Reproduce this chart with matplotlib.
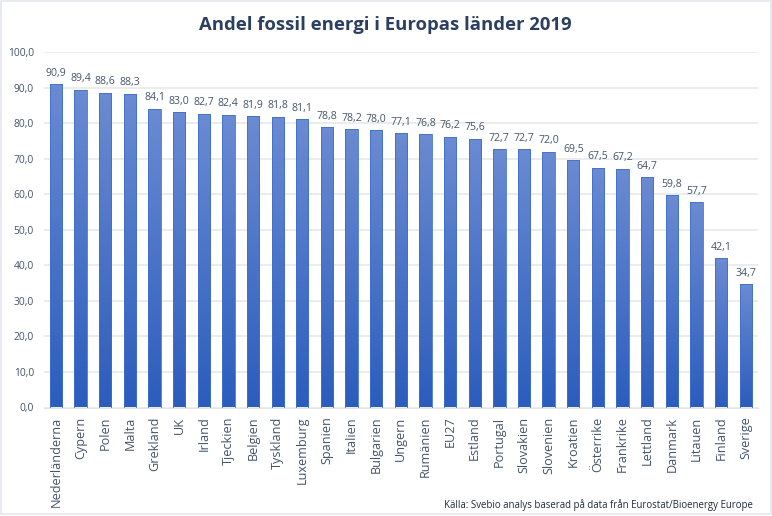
import numpy as np
import matplotlib
matplotlib.use("Agg")
import matplotlib.pyplot as plt
from matplotlib.colors import LinearSegmentedColormap
from matplotlib.patches import Rectangle

countries = ["Nederländerna", "Cypern", "Polen", "Malta", "Grekland", "UK", "Irland",
             "Tjeckien", "Belgien", "Tyskland", "Luxemburg", "Spanien", "Italien",
             "Bulgarien", "Ungern", "Rumänien", "EU27", "Estland", "Portugal",
             "Slovakien", "Slovenien", "Kroatien", "Österrike", "Frankrike", "Lettland",
             "Danmark", "Litauen", "Finland", "Sverige"]
values = [90.9, 89.4, 88.6, 88.3, 84.1, 83.0, 82.7, 82.4, 81.9, 81.8, 81.1, 78.8,
          78.2, 78.0, 77.1, 76.8, 76.2, 75.6, 72.7, 72.7, 72.0, 69.5, 67.5, 67.2,
          64.7, 59.8, 57.7, 42.1, 34.7]
yticks = [0, 10, 20, 30, 40, 50, 60, 70, 80, 90, 100]


def comma(v):
    return f"{v:.1f}".replace(".", ",")


W, H = 772, 516
plt.rcParams["font.family"] = ["Open Sans", "DejaVu Sans"]
text_color = "#44546a"

fig = plt.figure(figsize=(W / 100, H / 100), dpi=100)
ax = fig.add_axes([43.7 / W, 1 - 407.5 / H, (758 - 43.7) / W, (407.5 - 52) / H])

# bars with a light-to-dark fade, like the Excel original
cmap = LinearSegmentedColormap.from_list("fade", ["#6b8bd2", "#2b5dbd"])
grad = np.linspace(0, 1, 256).reshape(-1, 1)
bars = ax.bar(range(len(values)), values, width=0.5, color="none",
              edgecolor="#3f70cc", linewidth=0.6, zorder=3)
for bar in bars:
    x0, w, h = bar.get_x(), bar.get_width(), bar.get_height()
    im = ax.imshow(grad, cmap=cmap, extent=(x0, x0 + w, 0, h), aspect="auto",
                   origin="upper", zorder=2)
    im.set_clip_path(bar)

for i, v in enumerate(values):
    ax.text(i, v + 1.5, comma(v), ha="center", va="bottom", fontsize=7.6, color=text_color)

ax.set_xlim(-0.5, len(values) - 0.5)
ax.set_ylim(0, 100)
ax.set_yticks(yticks)
ax.set_yticklabels([comma(t) for t in yticks], fontsize=7.4, color=text_color)
ax.set_xticks(range(len(values)))
ax.set_xticklabels(countries, rotation=90, fontsize=9.1, color=text_color)
ax.tick_params(axis="both", length=0)
ax.tick_params(axis="x", pad=6.5)
ax.tick_params(axis="y", pad=7)
ax.grid(axis="y", color="#ececec", linewidth=1.4, zorder=0)
ax.set_axisbelow(True)
for name in ["top", "right", "left"]:
    ax.spines[name].set_visible(False)
ax.spines["bottom"].set_color("#e4e4e4")

fig.text(385.7 / W, 1 - 24.5 / H, "Andel fossil energi i Europas länder 2019", ha="center",
         va="center", fontsize=13.3, fontweight="bold", color="#2b3f60")
fig.text(753 / W, 1 - 505.5 / H, "Källa: Svebio analys baserad på data från Eurostat/Bioenergy Europe",
         ha="right", va="center", fontsize=6.95, color="#1f2a3a")

# thin chart frame
fig.add_artist(Rectangle((0.001, 0.004), 0.998, 0.995, transform=fig.transFigure,
                         fill=False, edgecolor="#e4e6ee", linewidth=1.2))

fig.savefig("out.png", dpi=100)
